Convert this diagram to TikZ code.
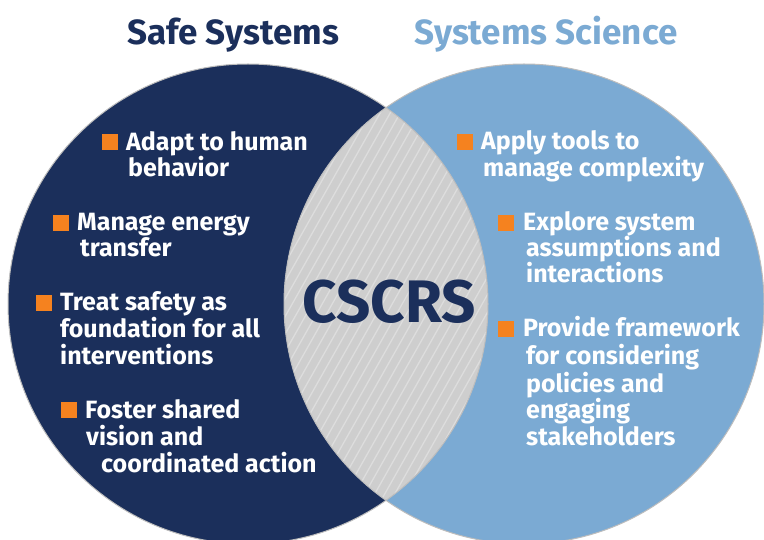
\documentclass[tikz,border=0pt]{standalone}
\usepackage{fontspec}
\setmainfont{Fira Sans}
\definecolor{navy}{HTML}{1B2F5B}
\definecolor{sky}{HTML}{7BAAD3}
\definecolor{lensgray}{HTML}{CECECE}
\definecolor{stripecol}{HTML}{DDDDDD}
\definecolor{rim}{HTML}{BDBDBD}
\definecolor{bul}{HTML}{F5821F}
\tikzset{
  itemtxt/.style={anchor=base west, inner sep=0pt, text=white, font=\fontsize{25}{27}\selectfont\bfseries},
  bulletbox/.style={anchor=north west, fill=bul, inner sep=0pt, minimum size=16pt},
  titletxt/.style={anchor=base, inner sep=0pt, font=\fontsize{35}{38}\selectfont\bfseries},
}
\newcommand{\itemline}[4]{%
  \node[itemtxt] (#1) at (#2,#3) {#4};}
\begin{document}
\begin{tikzpicture}[x=1pt,y=-1pt]
\useasboundingbox (0,0) rectangle (764,540);
\begin{scope}
  \clip (0,0) rectangle (764,540);
  \fill[navy] (248,304) circle[radius=240pt];
  \fill[sky] (524,304) circle[radius=240pt];
  \begin{scope}
    \clip (248,304) circle[radius=240pt];
    \clip (524,304) circle[radius=240pt];
    \fill[lensgray] (250,50) rectangle (530,540);
    \foreach \i in {0,...,50} {
      \draw[stripecol, line width=1.3pt] (\i*10,520) -- ++(250,-442);
    }
  \end{scope}
  \draw[rim, line width=1pt] (248,304) circle[radius=240pt];
  \draw[rim, line width=1pt] (524,304) circle[radius=240pt];
\end{scope}

% titles
\node[titletxt, text=navy] (t1) at (233,45) {Safe Systems};
\node[titletxt, text=sky] (t2) at (546,45) {Systems Science};

% centre
\node[anchor=base, inner sep=0pt, text=navy, font=\fontsize{60}{64}\selectfont\bfseries] (cscrs) at (389,323) {CSCRS};

% left items
\node[bulletbox] (b1) at (102,134) {};
\itemline{l1a}{126}{151}{Adapt to human}
\itemline{l1b}{128}{177}{behavior}
\node[bulletbox] (b2) at (53,215) {};
\itemline{l2a}{77}{231}{Manage energy}
\itemline{l2b}{80}{257}{transfer}
\node[bulletbox] (b3) at (36,295) {};
\itemline{l3a}{60}{311}{Treat safety as}
\itemline{l3b}{60}{338}{foundation for all}
\itemline{l3c}{60}{365}{interventions}
\node[bulletbox] (b4) at (61,402) {};
\itemline{l4a}{85}{418}{Foster shared}
\itemline{l4b}{86}{445}{vision and}
\itemline{l4c}{101}{472}{coordinated action}

% right items
\node[bulletbox] (b5) at (457,134) {};
\itemline{r1a}{481}{150}{Apply tools to}
\itemline{r1b}{483}{177}{manage complexity}
\node[bulletbox] (b6) at (498,215) {};
\itemline{r2a}{523}{231}{Explore system}
\itemline{r2b}{526}{257}{assumptions and}
\itemline{r2c}{526}{283}{interactions}
\node[bulletbox] (b7) at (498,321) {};
\itemline{r3a}{523}{337}{Provide framework}
\itemline{r3b}{526}{365}{for considering}
\itemline{r3c}{526}{392}{policies and}
\itemline{r3d}{526}{418}{engaging}
\itemline{r3e}{526}{445}{stakeholders}
\end{tikzpicture}
\end{document}
